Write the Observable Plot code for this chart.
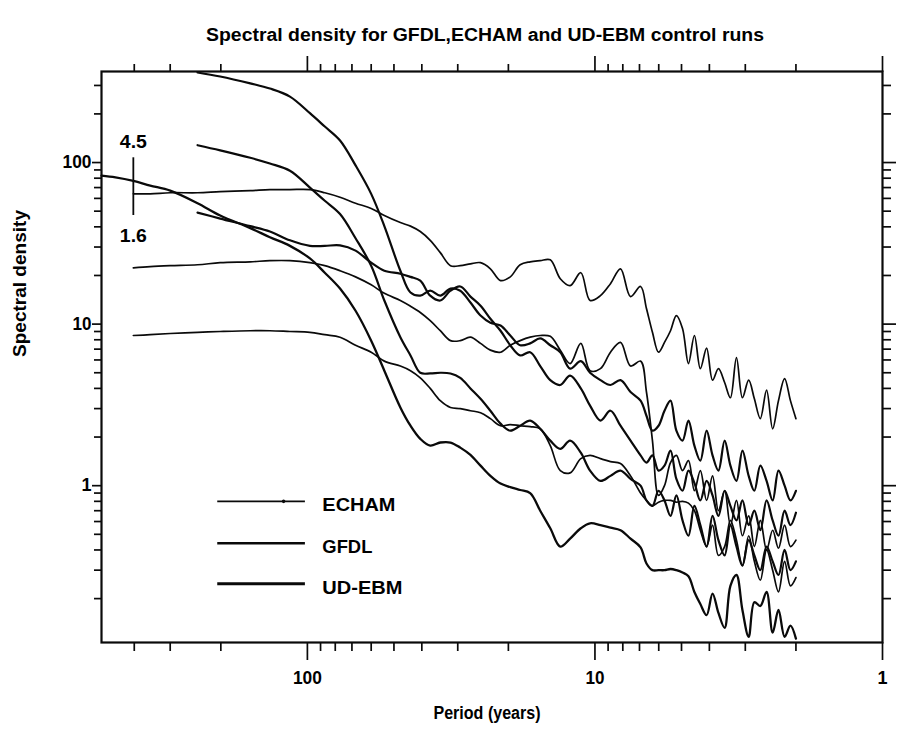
<!DOCTYPE html>
<html><head><meta charset="utf-8">
<script src="https://cdn.jsdelivr.net/npm/d3@7"></script>
<script src="https://cdn.jsdelivr.net/npm/@observablehq/plot@0.6"></script>
<style>body{margin:0;background:#fff}#chart{width:898px;height:729px}</style>
</head><body><div id="chart"></div>
<script>
// Period grid (years) shared by all spectra
const periods = [
  520, 465, 403, 352, 300, 241, 201, 158, 135, 115,
  98, 87, 77, 68, 60, 54, 47.5, 43.8, 40.5, 37.4,
  34.5, 31.8, 29.4, 27.1, 25.0, 23.1, 21.3, 19.7, 18.2, 16.8,
  15.5, 14.3, 13.2, 12.2, 11.2, 10.4, 9.57, 8.83, 8.15, 7.52,
  6.94, 6.62, 6.31, 6.01, 5.73, 5.46, 5.21, 4.96, 4.73, 4.51,
  4.30, 4.09, 3.90, 3.72, 3.54, 3.38, 3.22, 3.07, 2.92, 2.79,
  2.66, 2.53, 2.41, 2.30, 2.19, 2.09, 2.0
];
// Spectral density values
const echam1 = [
  null, null, 64, 64, 65, 65, 66, 67, 68, 68,
  68, 65, 61, 56, 52, 47, 42.5, 40.4, 37.4, 33,
  27.7, 23, 23, 23.6, 24, 22, 18.6, 19.6, 23.3, 24.3,
  24.7, 25, 19.1, 17.3, 20.8, 14.0, 15.0, 17.8, 22, 14.8,
  17.1, 12.5, 8.9, 6.7, 7.7, 9.1, 11.3, 9.4, 5.7, 8.5,
  5.3, 7.1, 4.5, 5.3, 4.35, 3.5, 6.2, 3.5, 4.5, 3.45,
  2.6, 3.9, 2.25, 3.36, 4.6, 3.36, 2.6
];
const echam2 = [
  null, null, 22.3, 22.7, 23, 23.3, 24, 24.3, 24.7, 24.7,
  24, 23, 21.4, 19.6, 17.5, 15.5, 14.0, 12.9, 11.8, 10.5,
  9.1, 7.9, 7.9, 8.3, 7.6, 6.9, 6.7, 7.4, 7.9, 8.3,
  8.5, 8.4, 6.9, 5.7, 7.6, 5.15, 5.3, 6.7, 7.7, 5.5,
  5.9, 3.8, 1.9, 0.87, 1.0, 1.39, 1.54, 1.24, 1.43, 0.93,
  1.24, 0.81, 1.15, 0.70, 0.93, 0.57, 0.81, 0.49, 0.65, 0.42,
  0.61, 0.40, 0.53, 0.41, 0.57, 0.42, 0.46
];
const echam3 = [
  null, null, 8.5, 8.6, 8.75, 8.9, 9.0, 9.1, 9.1, 9.0,
  8.9, 8.6, 8.3, 7.4, 6.7, 5.9, 5.5, 5.15, 4.65, 4.0,
  3.36, 3.05, 3.0, 2.91, 2.83, 2.6, 2.35, 2.39, 2.35, 2.32,
  2.25, 1.77, 1.24, 1.2, 1.47, 1.54, 1.47, 1.41, 1.37, 1.15,
  0.9, 0.81, 0.75, 0.79, 0.81, 0.81, 0.79, 0.80, 0.78, 0.70,
  0.53, 0.42, 0.57, 0.37, 0.42, 0.61, 0.46, 0.32, 0.49, 0.34,
  0.26, 0.40, 0.30, 0.22, 0.34, 0.24, 0.27
];
const gfdl1 = [
  83, 81, 77, 72, 67, 56, 47, 39.3, 34.5, 30.5,
  25.5, 20.8, 16.6, 12.1, 7.9, 5.15, 3.05, 2.35, 1.95, 1.77,
  1.85, 1.85, 1.72, 1.55, 1.33, 1.15, 1.03, 0.98, 0.94, 0.9,
  0.70, 0.545, 0.42, 0.47, 0.545, 0.585, 0.57, 0.55, 0.53, 0.47,
  0.415, 0.33, 0.30, 0.30, 0.30, 0.305, 0.30, 0.29, 0.275, 0.22,
  0.185, 0.158, 0.215, 0.163, 0.132, 0.24, 0.28, 0.17, 0.116, 0.19,
  0.18, 0.22, 0.123, 0.17, 0.116, 0.136, 0.113
];
const ebm1 = [
  null, null, null, null, null, 361, 341, 309, 287, 256,
  202, 167, 137, 96, 64, 40.4, 21.4, 15.7, 15.0, 16.1,
  15.0, 16.6, 16.1, 13.6, 11.3, 10.2, 9.8, 8.5, 7.4, 7.6,
  8.15, 7.4, 6.7, 5.3, 5.9, 5.0, 4.5, 4.2, 4.5, 3.8,
  3.36, 2.71, 2.19, 2.35, 2.91, 3.36, 2.19, 1.90, 2.53, 1.77,
  1.43, 2.19, 1.54, 1.24, 1.90, 1.33, 1.07, 1.65, 1.15, 0.93,
  1.33, 1.07, 0.81, 1.24, 1.0, 0.81, 0.93
];
const ebm2 = [
  null, null, null, null, null, 128, 119, 107, 98.6, 89,
  70, 58, 48, 34, 23, 14.0, 8.3, 6.4, 5.0, 4.95,
  5.0, 4.95, 4.65, 4.0, 3.45, 2.91, 2.42, 2.19, 2.35, 2.53,
  2.25, 1.90, 1.69, 1.90, 1.6, 1.24, 1.07, 1.15, 1.24, 1.10,
  1.0, 0.81, 0.75, 0.93, 0.81, 0.65, 0.87, 0.61, 0.49, 0.75,
  0.57, 0.42, 0.65, 0.46, 0.37, 0.57, 0.42, 0.32, 0.46, 0.37,
  0.30, 0.42, 0.34, 0.28, 0.40, 0.30, 0.34
];
const ebm3 = [
  null, null, null, null, null, 49, 45, 40.4, 37.4, 33,
  30.5, 30.5, 30.7, 28.5, 24, 21.4, 20.5, 19.6, 18.6, 15.0,
  14.0, 16.1, 17.1, 14.8, 13.0, 10.8, 9.1, 7.4, 6.4, 6.7,
  5.5, 4.5, 4.2, 4.8, 4.0, 3.13, 2.53, 2.91, 2.35, 1.90,
  1.54, 1.39, 1.54, 1.24, 1.33, 1.65, 1.10, 0.93, 1.24, 1.04,
  0.81, 1.07, 0.87, 0.65, 0.93, 0.75, 0.61, 0.81, 0.57, 0.70,
  0.53, 0.81, 0.61, 0.49, 0.70, 0.57, 0.68
];
const seriesNames = ["ECHAM", "GFDL", "UD-EBM"];
const curves = [
  {name: "echam1", series: "ECHAM", values: echam1},
  {name: "echam2", series: "ECHAM", values: echam2},
  {name: "echam3", series: "ECHAM", values: echam3},
  {name: "gfdl1", series: "GFDL", values: gfdl1},
  {name: "ebm1", series: "UD-EBM", values: ebm1},
  {name: "ebm2", series: "UD-EBM", values: ebm2},
  {name: "ebm3", series: "UD-EBM", values: ebm3}
];
// 4.5 / 1.6 confidence bar
const errBar = [{period: 403, low: 47, high: 107}];
// tick values
const xMajor = [100, 10, 1];
const xMinor = [400, 300, 200, 90, 80, 70, 60, 50, 40, 30, 20, 9, 8, 7, 6, 5, 4, 3, 2];
const yMajor = [100, 10, 1];
const yMinor = [300, 200, 90, 80, 70, 60, 50, 40, 30, 20, 9, 8, 7, 6, 5, 4, 3, 2,
                0.9, 0.8, 0.7, 0.6, 0.5, 0.4, 0.3, 0.2];
const titleText = "Spectral density for GFDL,ECHAM and UD-EBM control runs";

// ---- styling (not data) ----
const lineWidth = {"ECHAM": 1.7, "GFDL": 2.3, "UD-EBM": 2.2};
const legendWidth = {"ECHAM": 1.8, "GFDL": 2.5, "UD-EBM": 2.9};
const legendLevel = {"ECHAM": 0.8, "GFDL": 0.44, "UD-EBM": 0.247};
const ink = "#0a0a0a";

const rows = curves.flatMap(c => periods.map((p, i) => ({curve: c.name, series: c.series, period: p, value: c.values[i]})))
  .filter(d => d.value != null);

const tickOpts = {tickFormat: () => "", label: null, stroke: ink, strokeWidth: 1.7};

const chart = Plot.plot({
  width: 898, height: 729,
  marginTop: 71, marginBottom: 87, marginLeft: 101, marginRight: 16,
  style: {fontFamily: "'Liberation Sans', Arial, sans-serif", fontSize: "18px", background: "#fff", color: "#000", overflow: "visible"},
  x: {type: "log", domain: [520, 1]},
  y: {type: "log", domain: [0.107, 366]},
  marks: [
    Plot.axisX({anchor: "bottom", ticks: xMinor, tickSize: 9, ...tickOpts}),
    Plot.axisX({anchor: "bottom", ticks: xMajor, tickSize: 18, ...tickOpts}),
    Plot.axisX({anchor: "top", ticks: xMinor, tickSize: 8, ...tickOpts}),
    Plot.axisX({anchor: "top", ticks: xMajor, tickSize: 16, ...tickOpts}),
    Plot.axisY({anchor: "left", ticks: yMinor, tickSize: 7, ...tickOpts}),
    Plot.axisY({anchor: "left", ticks: yMajor, tickSize: 9, ...tickOpts}),
    Plot.axisY({anchor: "right", ticks: yMinor, tickSize: 8, ...tickOpts}),
    Plot.axisY({anchor: "right", ticks: yMajor, tickSize: 13, ...tickOpts}),
    ...seriesNames.map(s => Plot.line(rows.filter(d => d.series === s), {
      x: "period", y: "value", z: "curve", stroke: ink, strokeWidth: lineWidth[s], curve: "catmull-rom"
    })),
    Plot.ruleX(errBar, {x: "period", y1: "low", y2: "high", stroke: ink, strokeWidth: 1.8}),
    Plot.text(errBar, {x: "period", y: "high", text: () => "4.5", dy: -16, fontSize: 18}),
    Plot.text(errBar, {x: "period", y: "low", text: () => "1.6", dy: 21, fontSize: 18}),
    Plot.ruleY(seriesNames, {y: d => legendLevel[d], x1: () => 205, x2: () => 101.6, stroke: ink, strokeWidth: d => legendWidth[d]}),
    Plot.dot(["ECHAM"], {x: () => 121, y: d => legendLevel[d], r: 1.8, fill: ink, stroke: null}),
    Plot.text(seriesNames, {x: () => 88.7, y: d => legendLevel[d], text: d => d, textAnchor: "start", dy: 4, fontSize: 18}),
    Plot.frame({stroke: ink, strokeWidth: 2.2}),
    Plot.text(xMajor, {x: d => d, text: d => String(d), frameAnchor: "bottom", dy: 41, fontSize: 18}),
    Plot.text(yMajor, {y: d => d, text: d => String(d), frameAnchor: "left", dx: -10, textAnchor: "end", fontSize: 18}),
    Plot.text(["Period (years)"], {text: d => d, frameAnchor: "bottom", dx: -5, dy: 76, fontSize: 18}),
    Plot.text(["Spectral density"], {text: d => d, frameAnchor: "left", dx: -81, rotate: -90, fontSize: 18}),
    Plot.text([titleText], {text: d => d, frameAnchor: "top", dx: -7, dy: -43, fontSize: 18})
  ]
});

// Stretch texts to the extents seen in the scanned figure
const widths = new Map([
  [titleText, 558], ["Period (years)", 107], ["Spectral density", 147],
  ["ECHAM", 73], ["GFDL", 50], ["UD-EBM", 80], ["4.5", 27], ["1.6", 27],
  ["100", 29], ["10", 19]
]);
chart.querySelectorAll("text").forEach(t => {
  const w = widths.get(t.textContent);
  if (w && t.children.length === 0) {
    t.setAttribute("textLength", w);
    t.setAttribute("lengthAdjust", "spacingAndGlyphs");
  }
  t.setAttribute("font-weight", "bold");
});
document.getElementById("chart").appendChild(chart);
</script></body></html>
